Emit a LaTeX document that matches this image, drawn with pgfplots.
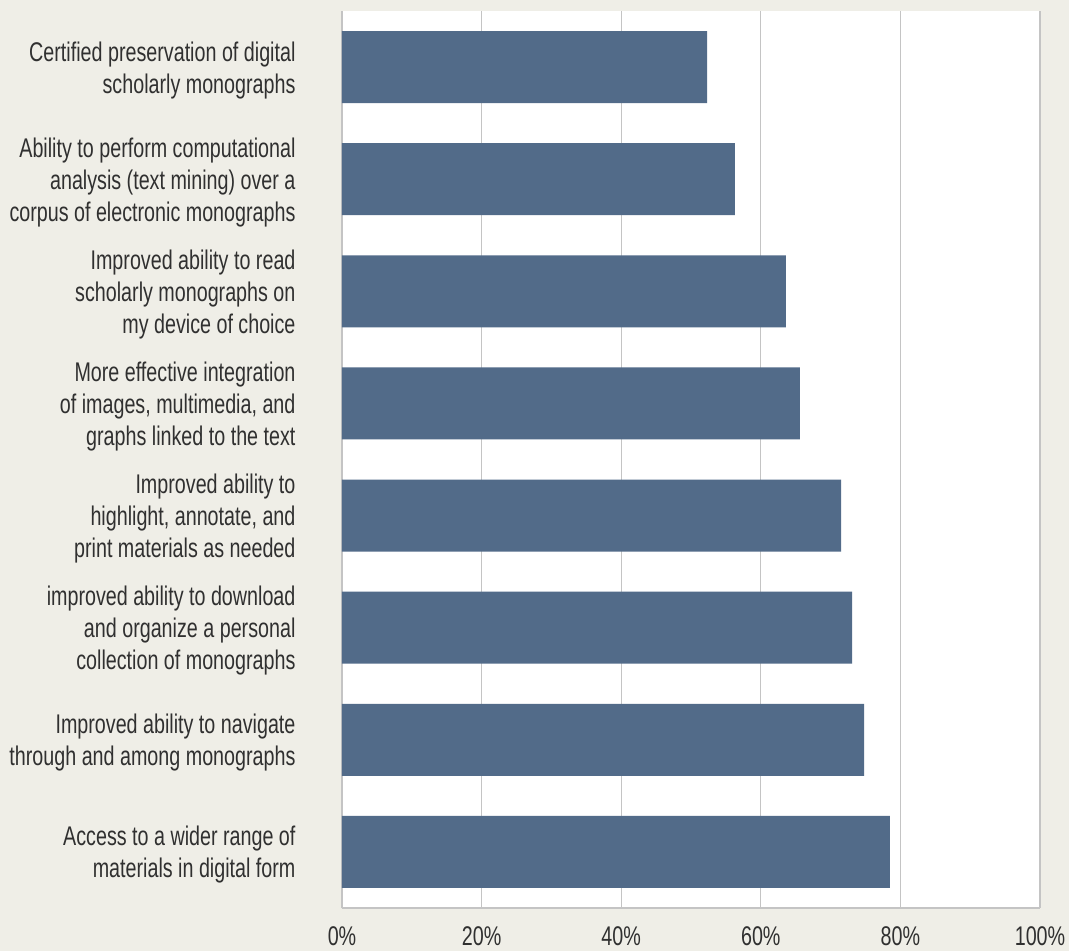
\documentclass[border=0pt]{standalone}
\usepackage{fontspec}
\setmainfont{Liberation Sans}[FakeStretch=0.73]
\usepackage{pgfplots}
\pgfplotsset{compat=1.18}

\definecolor{bgcol}{RGB}{239,238,231}
\definecolor{barcol}{RGB}{82,107,137}
\definecolor{gridcol}{RGB}{196,196,196}
\definecolor{txtcol}{RGB}{48,48,48}

\begin{document}
\begin{tikzpicture}
% background of the whole picture (1 px = 1 pt)
\fill[bgcol] (-342pt,-43pt) rectangle (727pt,908pt);
\begin{axis}[
    scale only axis,
    width=698pt,
    height=897pt,
    xbar,
    bar width=72pt,
    xmin=0, xmax=100,
    ymin=-0.5, ymax=7.5,
    ytick={0,...,7},
    yticklabels={
        {Access to a wider range of\\materials in digital form},
        {Improved ability to navigate\\through and among monographs},
        {improved ability to download\\and organize a personal\\collection of monographs},
        {Improved ability to\\highlight, annotate, and\\print materials as needed},
        {More effective integration\\of images, multimedia, and\\graphs linked to the text},
        {Improved ability to read\\scholarly monographs on\\my device of choice},
        {Ability to perform computational\\analysis (text mining) over a\\corpus of electronic monographs},
        {Certified preservation of digital\\scholarly monographs}
    },
    xtick={0,20,...,100},
    xticklabels={0\%,20\%,40\%,60\%,80\%,100\%},
    major tick length=0pt,
    axis x line*=bottom,
    axis y line*=left,
    axis line style={gridcol, line width=1.2pt, -},
    xmajorgrids,
    grid style={gridcol, line width=1.2pt},
    axis background/.style={fill=white},
    tick label style={font=\fontsize{27}{32}\selectfont, text=txtcol},
    yticklabel style={align=right, xshift=-43pt, yshift=-3pt},
    xticklabel style={yshift=-15pt},
]
\addplot[fill=barcol, draw=none] coordinates {
    (78.5,0)
    (74.8,1)
    (73.1,2)
    (71.5,3)
    (65.6,4)
    (63.6,5)
    (56.3,6)
    (52.3,7)
};
\end{axis}
\pgfresetboundingbox
\path (-342pt,-43pt) rectangle (727pt,908pt);
\end{tikzpicture}
\end{document}
